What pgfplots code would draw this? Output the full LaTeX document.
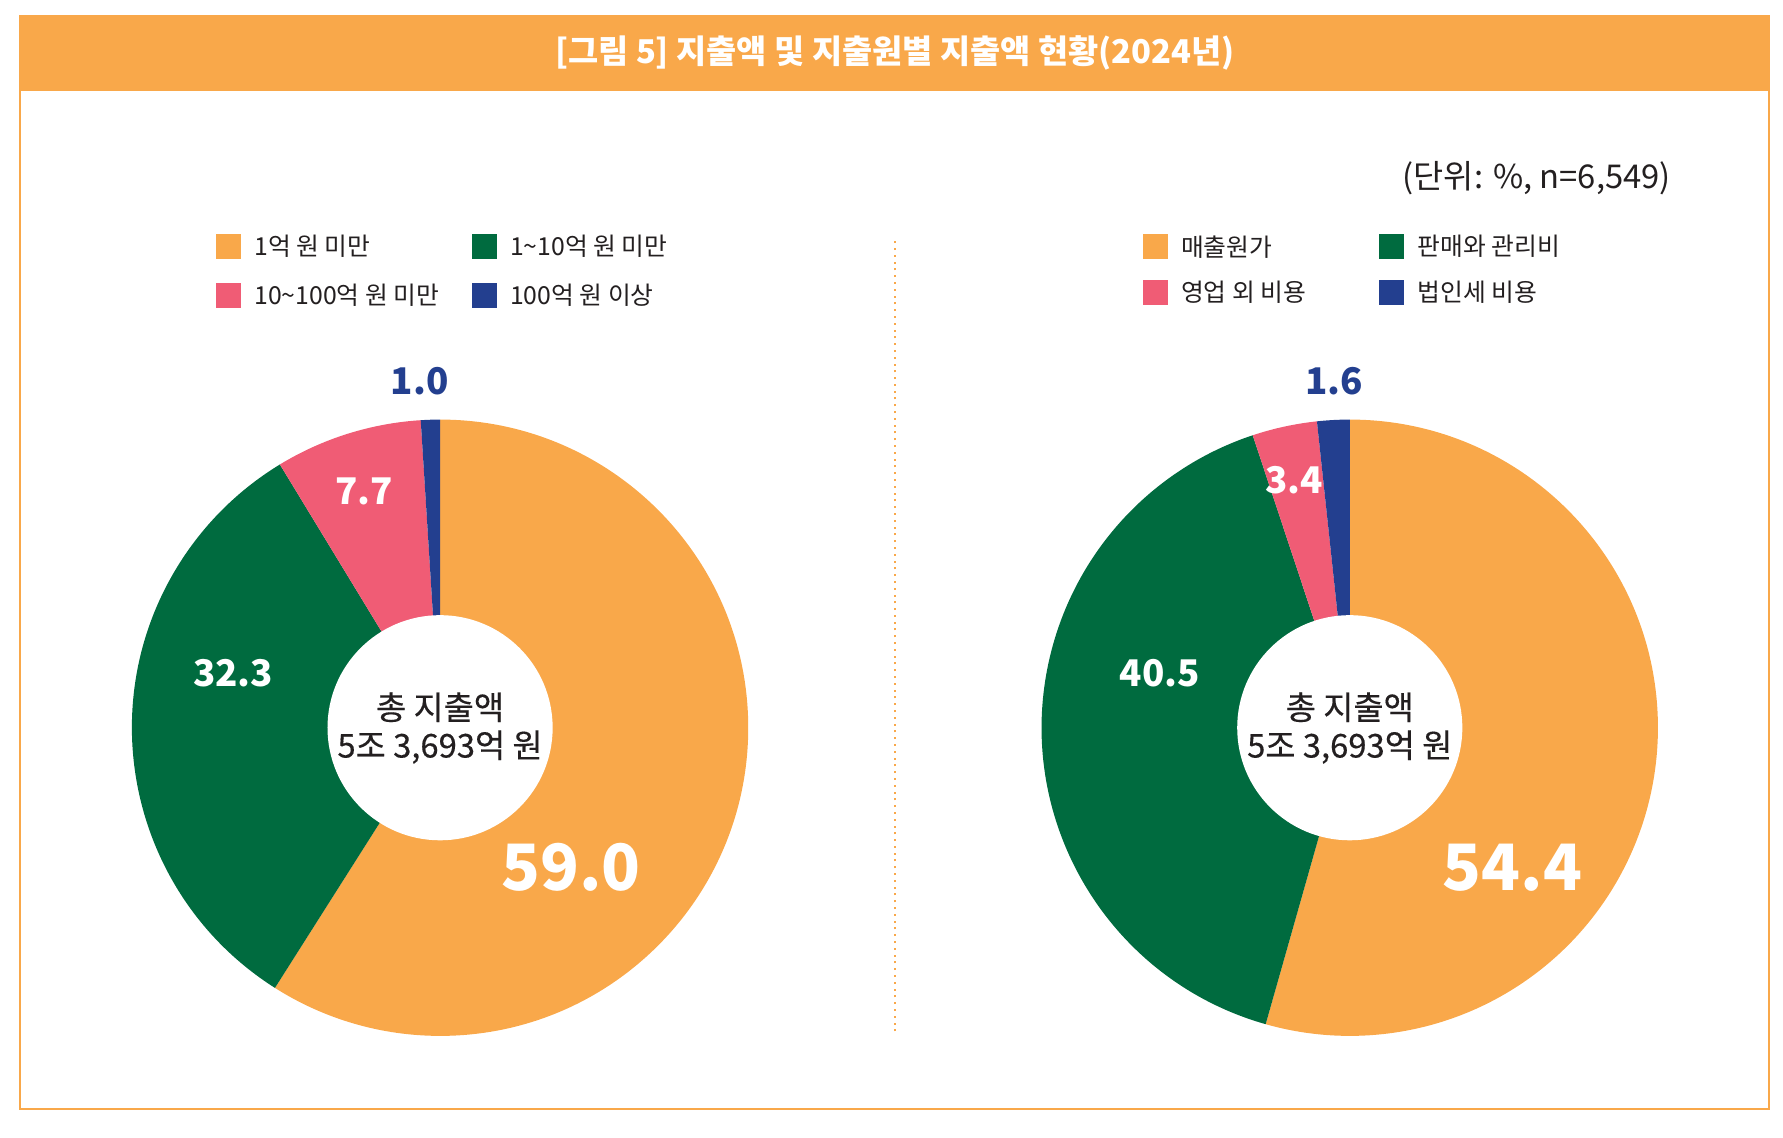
\documentclass[border=0pt]{standalone}
\usepackage{fontspec}
\setmainfont{Noto Sans CJK KR}
\newfontfamily\medfont[FakeBold=0.35]{Noto Sans CJK KR}
\usepackage{pgfplots}
\pgfplotsset{compat=1.18}
\definecolor{cO}{HTML}{F9A84A}
\definecolor{cG}{HTML}{006B3F}
\definecolor{cP}{HTML}{F05C75}
\definecolor{cN}{HTML}{233F8F}
\definecolor{cT}{HTML}{231F20}
% slice: cx, cy, start %, end %, colour
\newcommand{\slice}[5]{%
  \fill[#5] (axis cs:#1,#2) -- ++({90-3.6*#3}:27.1mm)
    arc[start angle={90-3.6*#3}, end angle={90-3.6*#4}, radius=27.1mm] -- cycle;}
\newcommand{\legsq}[3]{% x-left, y-centre, colour
  \fill[#3] (axis cs:#1,{#2-11}) rectangle (axis cs:{#1+22},{#2+11});}
\newcommand{\centretext}[1]{%
  \node[text=cT, font=\medfont\fontsize{8.2pt}{10pt}\selectfont] at (axis cs:#1,378) {총 지출액};
  \node[text=cT, font=\medfont\fontsize{8.2pt}{10pt}\selectfont] at (axis cs:#1,343) {5조 3,693억 원};}
\begin{document}
\begin{tikzpicture}
\begin{axis}[
  width=15.68cm, height=10cm, scale only axis,
  xmin=0, xmax=1568, ymin=0, ymax=1000,
  hide axis, clip=false]
\path (axis cs:0,0) rectangle (axis cs:1568,1000);
% frame and title bar
\fill[cO] (axis cs:18,920) rectangle (axis cs:1556,986);
\draw[cO, line width=0.5pt] (axis cs:18,25) rectangle (axis cs:1556,986);
\node[text=white, font=\bfseries\fontsize{8.2pt}{10pt}\selectfont] at (axis cs:787,953) {[그림 5] 지출액 및 지출원별 지출액 현황(2024년)};
\node[anchor=east, inner sep=0pt, text=cT, font=\fontsize{8.2pt}{10pt}\selectfont] at (axis cs:1470,843) {(단위: \%, n=6,549)};
% divider
\draw[cO, line width=0.6pt, dash pattern=on 0.5pt off 1.2pt] (axis cs:787,93) -- (axis cs:787,790);
% left donut
\slice{387}{360}{0}{59.0}{cO}
\slice{387}{360}{59.0}{91.3}{cG}
\slice{387}{360}{91.3}{99.0}{cP}
\slice{387}{360}{99.0}{100}{cN}
\fill[white] (axis cs:387,360) circle[radius=9.9mm];
% right donut
\slice{1187}{360}{0}{54.4}{cO}
\slice{1187}{360}{54.4}{94.9}{cG}
\slice{1187}{360}{94.9}{98.3}{cP}
\slice{1187}{360}{98.3}{100}{cN}
\fill[white] (axis cs:1187,360) circle[radius=9.9mm];
% centre texts
\centretext{387}
\centretext{1187}
% value labels
\node[text=cN, font=\bfseries\fontsize{9.2pt}{11pt}\selectfont] at (axis cs:369,665) {1.0};
\node[text=white, font=\bfseries\fontsize{9.2pt}{11pt}\selectfont] at (axis cs:320,568) {7.7};
\node[text=white, font=\bfseries\fontsize{9.2pt}{11pt}\selectfont] at (axis cs:205,408) {32.3};
\node[text=white, font=\bfseries\fontsize{16pt}{18pt}\selectfont] at (axis cs:502,237) {59.0};
\node[text=cN, font=\bfseries\fontsize{9.2pt}{11pt}\selectfont] at (axis cs:1173,665) {1.6};
\node[text=white, font=\bfseries\fontsize{9.2pt}{11pt}\selectfont] at (axis cs:1138,578) {3.4};
\node[text=white, font=\bfseries\fontsize{9.2pt}{11pt}\selectfont] at (axis cs:1020,408) {40.5};
\node[text=white, font=\bfseries\fontsize{16pt}{18pt}\selectfont] at (axis cs:1330,237) {54.4};
% left legend
\legsq{190}{783}{cO}
\legsq{415}{783}{cG}
\legsq{190}{740}{cP}
\legsq{415}{740}{cN}
\node[anchor=west, inner sep=0pt, text=cT, font=\fontsize{6.2pt}{8pt}\selectfont] at (axis cs:223,783) {1억 원 미만};
\node[anchor=west, inner sep=0pt, text=cT, font=\fontsize{6.2pt}{8pt}\selectfont] at (axis cs:448,783) {1\textasciitilde10억 원 미만};
\node[anchor=west, inner sep=0pt, text=cT, font=\fontsize{6.2pt}{8pt}\selectfont] at (axis cs:223,740) {10\textasciitilde100억 원 미만};
\node[anchor=west, inner sep=0pt, text=cT, font=\fontsize{6.2pt}{8pt}\selectfont] at (axis cs:448,740) {100억 원 이상};
% right legend
\legsq{1005}{783}{cO}
\legsq{1213}{783}{cG}
\legsq{1005}{743}{cP}
\legsq{1213}{743}{cN}
\node[anchor=west, inner sep=0pt, text=cT, font=\fontsize{6.2pt}{8pt}\selectfont] at (axis cs:1038,783) {매출원가};
\node[anchor=west, inner sep=0pt, text=cT, font=\fontsize{6.2pt}{8pt}\selectfont] at (axis cs:1246,783) {판매와 관리비};
\node[anchor=west, inner sep=0pt, text=cT, font=\fontsize{6.2pt}{8pt}\selectfont] at (axis cs:1038,743) {영업 외 비용};
\node[anchor=west, inner sep=0pt, text=cT, font=\fontsize{6.2pt}{8pt}\selectfont] at (axis cs:1246,743) {법인세 비용};
\end{axis}
\end{tikzpicture}
\end{document}
